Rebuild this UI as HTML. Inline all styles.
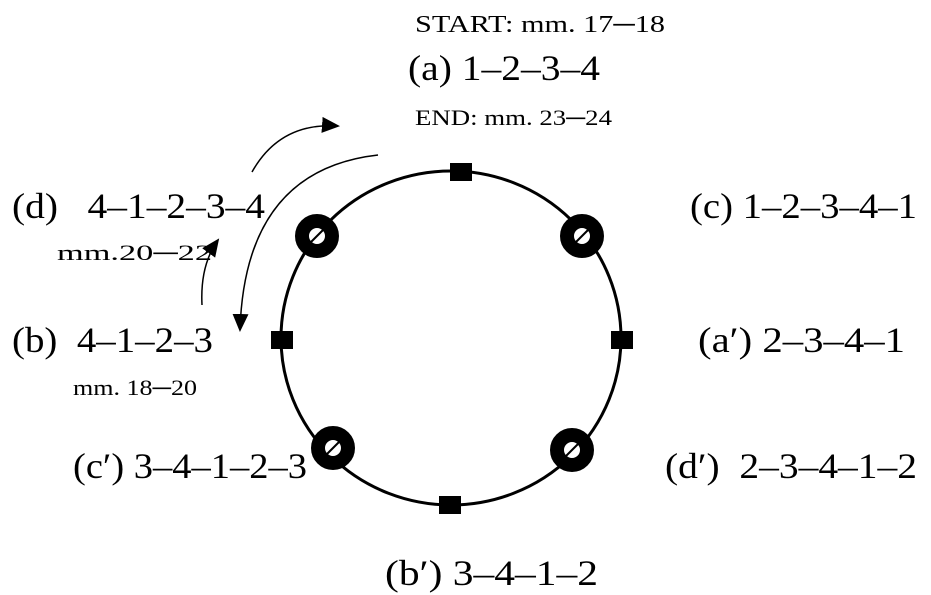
<!DOCTYPE html>
<html><head><meta charset="utf-8"><style>body{margin:0;background:#fff}svg{display:block}</style></head>
<body>
<svg width="931" height="595" viewBox="0 0 931 595" xmlns="http://www.w3.org/2000/svg" font-family="Liberation Serif, serif" fill="#000">
<defs><marker id="ah2" markerWidth="18" markerHeight="16" refX="16" refY="8" orient="auto" markerUnits="userSpaceOnUse"><path d="M0,0 L18,8 L0,16 Z"/></marker></defs>
<ellipse cx="451" cy="338" rx="170" ry="167" fill="none" stroke="#000" stroke-width="3"/>
<rect x="450" y="163" width="22" height="18"/>
<rect x="271" y="331" width="22" height="18"/>
<rect x="611" y="331" width="22" height="18"/>
<rect x="439" y="496" width="22" height="18"/>
<g fill="#fff" stroke="#000" stroke-width="14">
<circle cx="317" cy="236" r="15"/><circle cx="582" cy="236" r="15"/>
<circle cx="333" cy="448" r="15"/><circle cx="572" cy="450" r="15"/>
</g>
<g stroke="#000" stroke-width="2">
<line x1="311" y1="242" x2="323" y2="230"/><line x1="576" y1="242" x2="588" y2="230"/>
<line x1="327" y1="454" x2="339" y2="442"/><line x1="566" y1="456" x2="578" y2="444"/>
</g>
<g fill="none" stroke="#000" stroke-width="1.5">
<path d="M252,172 Q280,122 338,126" marker-end="url(#ah2)"/>
<path d="M378,155 Q245,170 240,330" marker-end="url(#ah2)"/>
<path d="M202,305 Q200,265 218,240" marker-end="url(#ah2)"/>
</g>
<g lengthAdjust="spacingAndGlyphs">
<text x="415" y="32" font-size="24" textLength="250" lengthAdjust="spacingAndGlyphs">START: mm. 17─18</text>
<text x="408" y="80" font-size="36" textLength="192" lengthAdjust="spacingAndGlyphs">(a)  1–2–3–4</text>
<text x="415" y="125" font-size="22" textLength="197" lengthAdjust="spacingAndGlyphs">END: mm. 23─24</text>
<text x="12" y="218" font-size="36" textLength="253" lengthAdjust="spacingAndGlyphs" xml:space="preserve">(d)   4–1–2–3–4</text>
<text x="57" y="260" font-size="22" textLength="155" lengthAdjust="spacingAndGlyphs">mm.20─22</text>
<text x="12" y="352" font-size="36" textLength="201" lengthAdjust="spacingAndGlyphs" xml:space="preserve">(b)  4–1–2–3</text>
<text x="73" y="395" font-size="22" textLength="124" lengthAdjust="spacingAndGlyphs">mm. 18─20</text>
<text x="73" y="478" font-size="36" textLength="234" lengthAdjust="spacingAndGlyphs">(c′) 3–4–1–2–3</text>
<text x="385" y="585" font-size="36" textLength="213" lengthAdjust="spacingAndGlyphs">(b′) 3–4–1–2</text>
<text x="690" y="218" font-size="36" textLength="227" lengthAdjust="spacingAndGlyphs">(c) 1–2–3–4–1</text>
<text x="698" y="352" font-size="36" textLength="207" lengthAdjust="spacingAndGlyphs">(a′) 2–3–4–1</text>
<text x="665" y="478" font-size="36" textLength="252" lengthAdjust="spacingAndGlyphs" xml:space="preserve">(d′)  2–3–4–1–2</text>
</g>
</svg>
</body></html>
